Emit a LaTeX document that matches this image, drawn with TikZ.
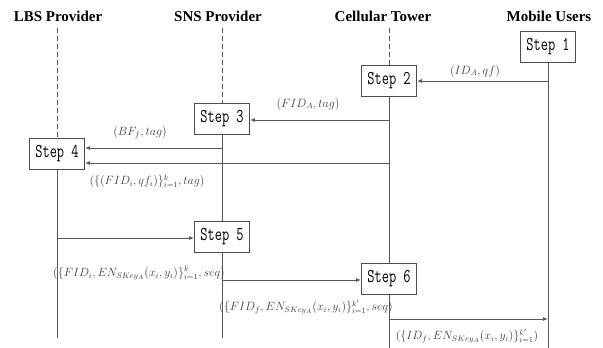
\documentclass[tikz,border=0pt]{standalone}
\usepackage{fontspec}
\usepackage{amsmath}
\usepackage{graphicx}
\usetikzlibrary{arrows.meta}
\newfontfamily\titlefont{Liberation Serif}
\newcommand{\steptext}[1]{\scalebox{0.8}[1.12]{\fontsize{17.5}{17.5}\selectfont\ttfamily #1}}
\tikzset{
  lane/.style={draw=black!65, line width=0.9pt},
  lanedash/.style={lane, dash pattern=on 5pt off 3pt},
  stepbox/.style={draw=black!70, line width=0.9pt, fill=white, minimum width=55pt, minimum height=31pt, inner sep=1pt},
  msg/.style={lane, -{Latex[length=5pt,width=4pt]}},
  head/.style={font=\titlefont\bfseries\fontsize{15}{15}\selectfont},
  lbl/.style={text=black!75, font=\fontsize{12}{14}\selectfont, inner sep=0pt}
}
\begin{document}
\begin{tikzpicture}[x=1pt,y=-1pt]
\useasboundingbox (0,0) rectangle (603,348);

% column headings
\node[head] (hl) at (58,16) {LBS Provider};
\node[head] (hs) at (218,16) {SNS Provider};
\node[head] (hc) at (383,16) {Cellular Tower};
\node[head] (hm) at (549,16) {Mobile Users};

% lifeline anchors
\coordinate (tl) at (57,28);
\coordinate (ts) at (222,28);
\coordinate (tc) at (389,28);
\coordinate (el) at (57,338);
\coordinate (es) at (222,338);
\coordinate (ec) at (389,348);
\coordinate (em) at (548,348);

% step boxes
\node[stepbox] (s1) at (548,47)  {\steptext{Step 1}};
\node[stepbox] (s2) at (389,81)  {\steptext{Step 2}};
\node[stepbox] (s3) at (222,119) {\steptext{Step 3}};
\node[stepbox] (s4) at (57,154)  {\steptext{Step 4}};
\node[stepbox] (s5) at (222,237) {\steptext{Step 5}};
\node[stepbox] (s6) at (389,279) {\steptext{Step 6}};

% lifelines
\draw[lanedash] (tl) -- (s4.north);
\draw[lanedash] (ts) -- (s3.north);
\draw[lanedash] (tc) -- (s2.north);
\draw[lane] (s4.south) -- (el);
\draw[lane] (s3.south) -- (s5.north);
\draw[lane] (s5.south) -- (es);
\draw[lane] (s2.south) -- (s6.north);
\draw[lane] (s6.south) -- (ec);
\draw[lane] (s1.south) -- (em);

% message origins
\coordinate (o1) at (548,81);
\coordinate (o2) at (389,120);
\coordinate (o3) at (222,148);
\coordinate (o4) at (389,163);
\coordinate (o5) at (57,238);
\coordinate (o6) at (222,280);
\coordinate (o7) at (389,319);
\coordinate (d7) at (548,319);

% messages
\draw[msg] (o1) -- (s2.east |- o1);
\draw[msg] (o2) -- (s3.east |- o2);
\draw[msg] (o3) -- (s4.east |- o3);
\draw[msg] (o4) -- (s4.east |- o4);
\draw[msg] (o5) -- (s5.west |- o5);
\draw[msg] (o6) -- (s6.west |- o6);
\draw[msg] (o7) -- (d7);

% message labels
\node[lbl] (l1) at (475,71)  {$(ID_A, qf)$};
\node[lbl] (l2) at (308,104) {$(FID_A, tag)$};
\node[lbl] (l3) at (140,133) {$(BF_f, tag)$};
\node[lbl] (l4) at (147,181) {$(\{(FID_i, qf_i)\}_{i=1}^{k}, tag)$};
\node[lbl] (l5) at (139,273) {$(\{FID_i, EN_{SKey_A}(x_i,y_i)\}_{i=1}^{k}, seq)$};
\node[lbl] (l6) at (306,307) {$(\{FID_f, EN_{SKey_A}(x_i,y_i)\}_{i=1}^{k'}, seq)$};
\node[lbl] (l7) at (467,336) {$(\{ID_f, EN_{SKey_A}(x_i,y_i)\}_{i=1}^{k'})$};
\end{tikzpicture}
\end{document}
